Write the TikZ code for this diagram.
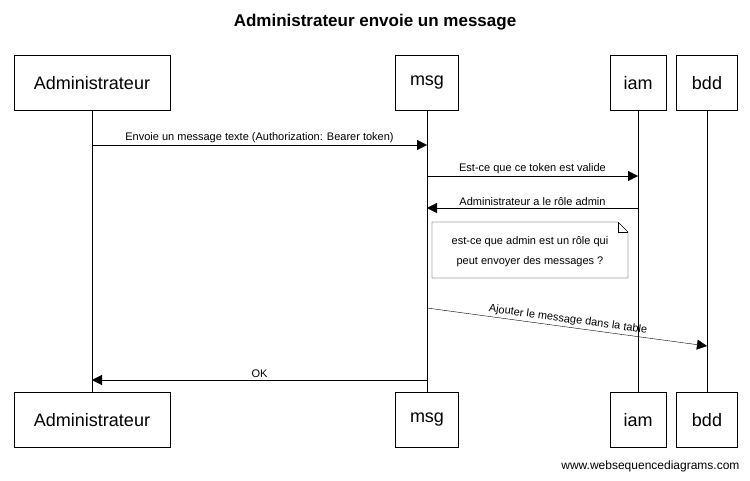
\documentclass[tikz,border=0pt]{standalone}
\usepackage{fontspec}
\setmainfont{Liberation Sans}
\usetikzlibrary{arrows.meta}
\tikzset{
  actor/.style={draw, thick, minimum height=55pt, inner xsep=0pt, font=\fontsize{18}{20}\selectfont},
  lifeline/.style={draw},
  msgarrow/.style={draw, -{Triangle[length=10pt,width=10pt]}},
  msglabel/.style={font=\fontsize{11}{13}\selectfont, inner sep=2pt}
}
\begin{document}
\begin{tikzpicture}[x=1pt,y=-1pt]
          \useasboundingbox (0,0) rectangle (750,480);
          \node [font=\bfseries\fontsize{17}{20}\selectfont] (title) at (375,22) {Administrateur envoie un message};

          % participants
          \node [actor, minimum width=156pt] (admintop) at (92,83) {Administrateur};
          \node [actor, minimum width=63pt] (msgtop) at (427,83) {msg};
          \node [actor, minimum width=56pt] (iamtop) at (638,83) {iam};
          \node [actor, minimum width=61pt] (bddtop) at (707,83) {bdd};

          \node [actor, minimum width=156pt] (adminbot) at (92,420) {Administrateur};
          \node [actor, minimum width=63pt] (msgbot) at (427,420) {msg};
          \node [actor, minimum width=56pt] (iambot) at (638,420) {iam};
          \node [actor, minimum width=61pt] (bddbot) at (707,420) {bdd};

          \draw [lifeline] (admintop) -- (adminbot);
          \draw [lifeline] (msgtop) -- (msgbot);
          \draw [lifeline] (iamtop) -- (iambot);
          \draw [lifeline] (bddtop) -- (bddbot);

          % messages
          \coordinate (m1a) at (92,145);  \coordinate (m1b) at (427,145);
          \coordinate (m2a) at (427,176); \coordinate (m2b) at (638,176);
          \coordinate (m3a) at (638,208); \coordinate (m3b) at (427,208);
          \coordinate (m4a) at (427,308); \coordinate (m4b) at (707,346);
          \coordinate (m5a) at (427,380); \coordinate (m5b) at (92,380);

          \draw [msgarrow] (m1a) -- (m1b) node [msglabel, midway, above] {Envoie un message texte (Authorization: Bearer token)};
          \draw [msgarrow] (m2a) -- (m2b) node [msglabel, midway, above] {Est-ce que ce token est valide};
          \draw [msgarrow] (m3a) -- (m3b) node [msglabel, midway, above] {Administrateur a le rôle admin};
          \draw [msgarrow] (m4a) -- (m4b) node [msglabel, midway, above, sloped] {Ajouter le message dans la table};
          \draw [msgarrow] (m5a) -- (m5b) node [msglabel, midway, above] {OK};

          % note
          \draw [fill=white] (432,222) -- (618,222) -- (628,232) -- (628,278) -- (432,278) -- cycle;
          \draw (618,222) -- (618,232) -- (628,232);
          \node [msglabel, align=center, font=\fontsize{11}{20}\selectfont] (note) at (530,252) {est-ce que admin est un rôle qui\\peut envoyer des messages ?};

          \node [anchor=east, font=\fontsize{12}{14}\selectfont] (footer) at (743,466) {www.websequencediagrams.com};
        \end{tikzpicture}
\end{document}
